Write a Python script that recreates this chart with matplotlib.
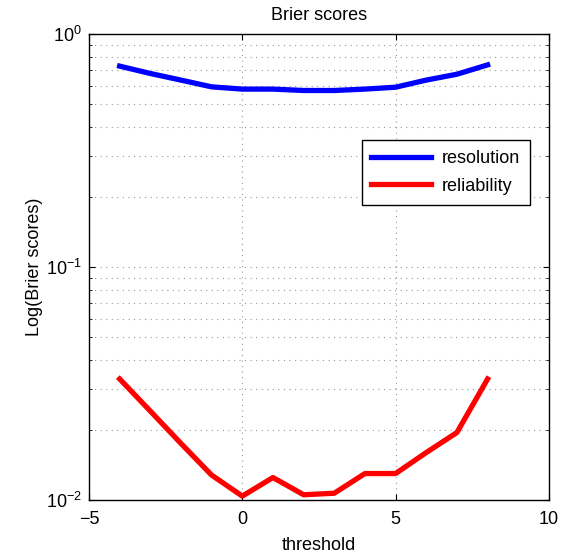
import matplotlib
matplotlib.use("Agg")
import matplotlib.pyplot as plt

plt.rcParams['font.family'] = ['Liberation Sans', 'DejaVu Sans']
plt.rcParams['mathtext.fontset'] = 'custom'
plt.rcParams['mathtext.rm'] = 'Liberation Sans'
plt.rcParams['mathtext.it'] = 'Liberation Sans'

# data
threshold = [-4, -3, -2, -1, 0, 1, 2, 3, 4, 5, 6, 7, 8]
resolution = [0.729, 0.678, 0.635, 0.594, 0.581, 0.581, 0.573, 0.573, 0.581, 0.592, 0.635, 0.673, 0.738]
reliability = [0.0331, 0.0241, 0.0175, 0.0128, 0.0104, 0.0125, 0.01054, 0.0107, 0.0130, 0.0130, 0.0160, 0.0195, 0.0331]

fig = plt.figure(figsize=(5.65, 5.6), dpi=100)
ax = fig.add_axes([0.1575, 0.107, 0.814, 0.832])

ax.semilogy(threshold, resolution, color='#0000ff', lw=3.8, label='resolution')
ax.semilogy(threshold, reliability, color='#ff0000', lw=3.8, label='reliability')

ax.set_xlim(-5, 10)
ax.set_ylim(1e-2, 1)
ax.set_xticks([-5, 0, 5, 10])
ax.set_xticklabels(['\u22125', '0', '5', '10'])

dots = (0, (1, 4))
ax.grid(True, which='major', ls=dots, color='#999999', lw=0.8)
ax.grid(True, which='minor', axis='y', ls=dots, color='#999999', lw=0.8)
ax.tick_params(which='both', direction='in', top=True, right=True, labelsize=13)
ax.tick_params(which='major', length=4, pad=5)
ax.tick_params(axis='x', which='major', pad=8)
ax.tick_params(which='minor', length=2)
for s in ax.spines.values():
    s.set_linewidth(1.0)

ax.set_title('Brier scores', fontsize=13, pad=10)
ax.set_xlabel('threshold', fontsize=13, labelpad=6)
ax.set_ylabel('Log(Brier scores)', fontsize=13, labelpad=2)

leg = ax.legend(loc='upper right', bbox_to_anchor=(0.959, 0.773), fontsize=13,
                fancybox=False, edgecolor='black', framealpha=1, handlelength=3.3,
                handletextpad=0.6, borderpad=0.55, labelspacing=0.6,
                borderaxespad=0)
leg.get_frame().set_linewidth(1.0)

fig.savefig('out.png', dpi=100)
